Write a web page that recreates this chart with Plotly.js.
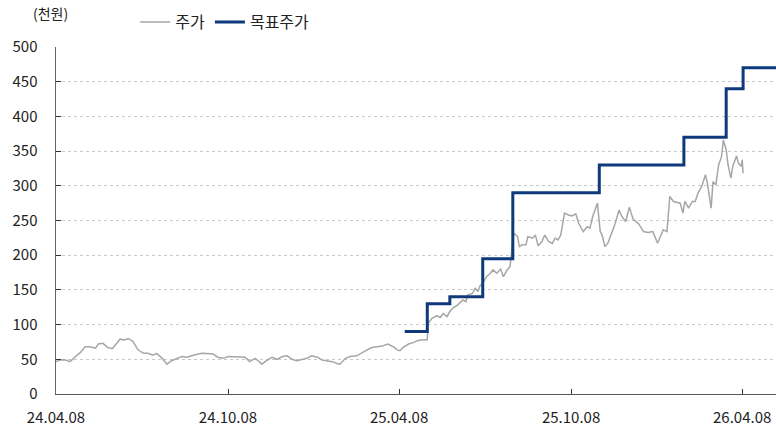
<!DOCTYPE html>
<html>
<head>
<meta charset="utf-8">
<script src="https://cdn.plot.ly/plotly-3.0.1.min.js"></script>
<style>
html,body{margin:0;padding:0;background:#fff;}
#chart{width:776px;height:433px;}
</style>
</head>
<body>
<div id="chart"></div>
<script>
// ---- data ----
const priceDates = [
"2024-04-08","2024-04-12","2024-04-18","2024-04-23","2024-04-28","2024-05-04","2024-05-09","2024-05-14","2024-05-20","2024-05-23",
"2024-05-28","2024-06-02","2024-06-07","2024-06-12","2024-06-15","2024-06-20","2024-06-24","2024-06-29","2024-07-04","2024-07-10",
"2024-07-15","2024-07-20","2024-07-24","2024-07-30","2024-08-04","2024-08-09","2024-08-15","2024-08-20","2024-08-25","2024-09-01",
"2024-09-06","2024-09-11","2024-09-17","2024-09-22","2024-09-27","2024-10-03","2024-10-08","2024-10-12","2024-10-19","2024-10-26",
"2024-10-31","2024-11-06","2024-11-09","2024-11-13","2024-11-19","2024-11-24","2024-11-29","2024-12-05","2024-12-10","2024-12-15",
"2024-12-20","2024-12-26","2024-12-31","2025-01-05","2025-01-11","2025-01-16","2025-01-21","2025-01-27","2025-02-01","2025-02-04",
"2025-02-10","2025-02-15","2025-02-22","2025-02-28","2025-03-05","2025-03-10","2025-03-16","2025-03-21","2025-03-27","2025-04-02",
"2025-04-06","2025-04-09","2025-04-12","2025-04-18","2025-04-23","2025-04-28","2025-05-04","2025-05-08","2025-05-09","2025-05-13",
"2025-05-18","2025-05-22","2025-05-25","2025-05-29","2025-06-01","2025-06-04","2025-06-09","2025-06-12","2025-06-15","2025-06-18",
"2025-06-20","2025-06-25","2025-06-28","2025-07-01","2025-07-03","2025-07-06","2025-07-10","2025-07-14","2025-07-17","2025-07-21",
"2025-07-25","2025-07-28","2025-08-01","2025-08-04","2025-08-06","2025-08-08","2025-08-12","2025-08-14","2025-08-17","2025-08-21",
"2025-08-23","2025-08-28","2025-08-31","2025-09-03","2025-09-07","2025-09-10","2025-09-14","2025-09-18","2025-09-21","2025-09-24",
"2025-09-27","2025-10-01","2025-10-05","2025-10-09","2025-10-13","2025-10-16","2025-10-21","2025-10-25","2025-10-28","2025-10-31",
"2025-11-05","2025-11-08","2025-11-10","2025-11-13","2025-11-16","2025-11-21","2025-11-24","2025-11-28","2025-12-01","2025-12-05",
"2025-12-09","2025-12-13","2025-12-19","2025-12-24","2025-12-29","2026-01-03","2026-01-08","2026-01-11","2026-01-14","2026-01-18",
"2026-01-21","2026-01-25","2026-01-29","2026-02-01","2026-02-04","2026-02-06","2026-02-10","2026-02-14","2026-02-17","2026-02-20",
"2026-02-24","2026-02-28","2026-03-02","2026-03-06","2026-03-08","2026-03-11","2026-03-14","2026-03-17","2026-03-19","2026-03-22",
"2026-03-24","2026-03-27","2026-03-29","2026-04-02","2026-04-04","2026-04-07","2026-04-08","2026-04-09"
];
const priceValues = [
46.6,49,49,46.6,53,60,68,68,66,72,
73,67,65.4,75,79,78,80,75.5,64,58.6,
58.6,56,58.6,51.4,43,48,51.4,54,53,56,
57.7,58.6,57.7,57.7,53,51.4,54,54,54,53,
46.6,51.4,48,43,49,53,50,54,55,50,
48,50,51.4,55,53,49,48,46.6,44,43,
51.4,54,55,60,63.5,67,68,69,72,68,
63.5,62.5,67,72,74,77,78,78,102,109,
112.5,110.6,116,111.5,118.8,123.5,128,131.7,135.6,133,
142.8,145,152.4,147.6,155.8,159.6,169,174,178.8,174,
180,169,178.8,183.6,212.5,231.7,227,212.5,215,215,
227,224.5,229,213.5,219.7,229,219.7,217,224.5,222,
229,260.6,258,256.7,259.6,246,234,241,239,255.8,
275,234,229,212.5,217,236.5,246,265,255.8,248.6,
269,252,245,234,232.7,234,217.3,227,236.5,234,
284.6,277.4,276,275,260.6,277.4,267.8,277.4,277.4,289.4,
299,315.9,304,267.8,306,301.4,330,342,366,352,
330,311,328,343,332.7,328,337.5,318
];
const targetDates  = ["2025-04-14","2025-05-08","2025-06-01","2025-07-06","2025-08-07","2025-11-07","2026-02-05","2026-03-22","2026-04-09","2026-05-14"];
const targetValues = [90,130,140,195,290,330,370,440,470,470];
const seriesNames = ["주가","목표주가"];
const unitLabel = "(천원)";
const xTickVals = ["2024-04-08","2024-10-08","2025-04-08","2025-10-08","2026-04-08"];
const xTickText = ["24.04.08","24.10.08","25.04.08","25.10.08","26.04.08"];

const FONT = "'Noto Sans CJK KR', 'Noto Sans', sans-serif";

const traces = [
  {x: priceDates, y: priceValues, name: seriesNames[0], type: "scatter", mode: "lines",
   line: {color: "#A6A6A6", width: 1.5}},
  {x: targetDates, y: targetValues, name: seriesNames[1], type: "scatter", mode: "lines",
   line: {color: "#0E3A7C", width: 3, shape: "hv"}}
];

const layout = {
  width: 776, height: 433,
  margin: {l: 56, r: 0, t: 47, b: 39},
  paper_bgcolor: "#fff", plot_bgcolor: "#fff",
  font: {family: FONT, size: 15, color: "#222"},
  showlegend: true,
  legend: {orientation: "h", x: 0.11, y: 1.072, xanchor: "left", yanchor: "middle",
           font: {family: FONT, size: 16, color: "#222"}, bgcolor: "rgba(0,0,0,0)",
           tracegroupgap: 0, itemwidth: 30},
  xaxis: {
    type: "date",
    range: ["2024-04-08", "2026-05-14"],
    tickvals: xTickVals, ticktext: xTickText,
    ticks: "inside", ticklen: 5, tickcolor: "#333", tickwidth: 1,
    showline: true, linecolor: "#555", linewidth: 1,
    showgrid: false, zeroline: false,
    ticklabelstandoff: 10,
    tickfont: {family: FONT, size: 15, color: "#222"}
  },
  yaxis: {
    range: [0, 500], dtick: 50, tick0: 0,
    ticks: "inside", ticklen: 5, tickcolor: "#333", tickwidth: 1,
    showline: true, linecolor: "#666", linewidth: 1.5,
    showgrid: true, gridcolor: "#C8C8C8", griddash: "dot", gridwidth: 1,
    zeroline: false,
    ticklabelstandoff: 14,
    tickfont: {family: FONT, size: 15, color: "#222"}
  },
  annotations: [
    {text: unitLabel, xref: "paper", yref: "paper", x: -0.035, y: 1.098, xanchor: "left", yanchor: "middle",
     showarrow: false, font: {family: FONT, size: 14, color: "#222"}}
  ]
};

Plotly.newPlot("chart", traces, layout, {staticPlot: true, displayModeBar: false});
</script>
</body>
</html>
